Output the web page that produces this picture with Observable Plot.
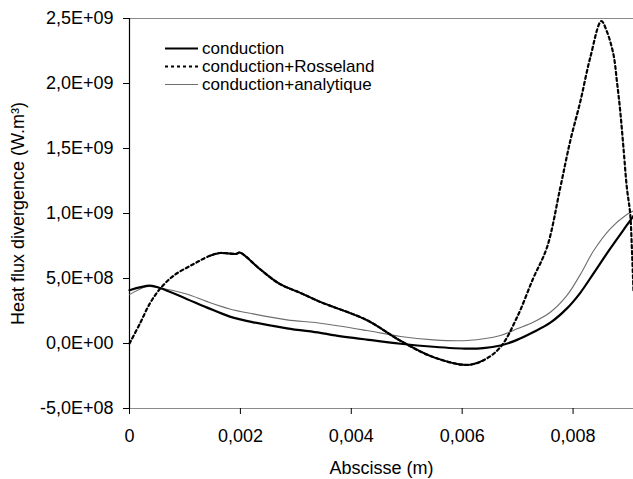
<!DOCTYPE html>
<html>
<head>
<meta charset="utf-8">
<script src="https://cdn.jsdelivr.net/npm/d3@7"></script>
<script src="https://cdn.jsdelivr.net/npm/@observablehq/plot@0.6"></script>
<style>
  body { margin: 0; background: #fff; }
  #chart { width: 633px; height: 479px; }
</style>
</head>
<body>
<div id="chart"></div>
<script>
// Series labels and axis ticks
const seriesNames = ["conduction", "conduction+Rosseland", "conduction+analytique"];
const xTicks = [0, 0.002, 0.004, 0.006, 0.008];
const yTicks = [-5e8, 0, 5e8, 1e9, 1.5e9, 2e9, 2.5e9];

// Heat flux divergence (W.m^-3) along the abscissa (m)
const conductionX = [0, 0.00037, 0.00055, 0.00103, 0.00139, 0.00181, 0.00223, 0.00284, 0.00344, 0.00367,
  0.00428, 0.00489, 0.00548, 0.00609, 0.00638, 0.00669, 0.00699, 0.00728, 0.00759, 0.00789,
  0.00813, 0.00837, 0.00867, 0.00897, 0.00909];
const conductionY = [4.1e8, 4.45e8, 4.27e8, 3.43e8, 2.78e8, 2.07e8, 1.63e8, 1.17e8, 0.82e8, 0.65e8,
  0.3e8, -0.02e8, -0.25e8, -0.4e8, -0.36e8, -0.15e8, 0.28e8, 0.87e8, 1.6e8, 2.7e8,
  3.9e8, 5.4e8, 7.3e8, 9.1e8, 9.82e8];

const rosselandX = [0, 0.00019, 0.00037, 0.00055, 0.00079, 0.00115, 0.00145, 0.00163, 0.00193, 0.00199,
  0.00235, 0.00271, 0.00308, 0.00344, 0.00428, 0.00489, 0.00548, 0.00609, 0.00638, 0.00669,
  0.00699, 0.00728, 0.00753, 0.00777, 0.00795, 0.00813, 0.00831, 0.00851, 0.00861, 0.00873,
  0.00879, 0.00885, 0.00891, 0.00897, 0.00903, 0.00906, 0.00909];
const rosselandY = [0, 1.55e8, 3.1e8, 4.2e8, 5.2e8, 6.1e8, 6.75e8, 6.96e8, 6.9e8, 7.0e8,
  5.73e8, 4.58e8, 3.9e8, 3.2e8, 1.8e8, 0.2e8, -1.05e8, -1.65e8, -1.3e8, -0.28e8,
  2.02e8, 5.0e8, 7.4e8, 1.2e9, 1.56e9, 1.86e9, 2.2e9, 2.48e9, 2.4e9, 2.22e9,
  2.02e9, 1.79e9, 1.5e9, 1.2e9, 1.0e9, 7.4e8, 4.0e8];

const analytiqueX = [0, 0.00031, 0.00055, 0.00103, 0.00139, 0.00181, 0.00223, 0.00284, 0.00344, 0.00428,
  0.00489, 0.00548, 0.00609, 0.00669, 0.00699, 0.00728, 0.00759, 0.00789, 0.00813, 0.00837,
  0.00867, 0.00897, 0.00909];
const analytiqueY = [3.76e8, 4.37e8, 4.27e8, 3.81e8, 3.24e8, 2.66e8, 2.28e8, 1.82e8, 1.56e8, 1.0e8,
  0.54e8, 0.28e8, 0.23e8, 0.61e8, 1.13e8, 1.63e8, 2.4e8, 3.7e8, 5.3e8, 7.13e8,
  8.82e8, 9.92e8, 1.02e9];

const toRows = (xs, ys) => xs.map((x, i) => ({x, y: ys[i]}));
const conduction = toRows(conductionX, conductionY);
const rosseland = toRows(rosselandX, rosselandY);
const analytique = toRows(analytiqueX, analytiqueY);

// "2,5E+09" style labels with a decimal comma
const fmtY = v => {
  const [m, e] = v.toExponential(1).split("e");
  const n = +e;
  return m.replace(".", ",") + "E" + (n < 0 ? "-" : "+") + String(Math.abs(n)).padStart(2, "0");
};
const fmtX = v => String(v).replace(".", ",");

const font = "'Liberation Sans', Arial, sans-serif";

const chart = Plot.plot({
  width: 633,
  height: 479,
  marginLeft: 129,
  marginRight: 0,
  marginTop: 18,
  marginBottom: 71,
  style: {fontFamily: font, fontSize: "18px", color: "#000", background: "#fff", overflow: "visible"},
  x: {domain: [0, 0.00909]},
  y: {domain: [-5e8, 2.5e9]},
  marks: [
    Plot.ruleY([2.5e9, -5e8], {stroke: "#8a8a8a", strokeWidth: 1.2}),
    Plot.ruleX([0], {stroke: "#000", strokeWidth: 1.2}),
    Plot.axisY({ticks: yTicks, tickFormat: fmtY, tickSize: 6, tickPadding: 10, label: null, fontSize: 18}),
    Plot.axisX({ticks: xTicks, tickFormat: fmtX, tickSize: 6, tickPadding: 15, label: null, fontSize: 18}),
    Plot.line(analytique, {x: "x", y: "y", stroke: "#6e6e6e", strokeWidth: 1.1, curve: "catmull-rom"}),
    Plot.line(conduction, {x: "x", y: "y", stroke: "#000", strokeWidth: 2.2, curve: "catmull-rom"}),
    Plot.line(rosseland, {x: "x", y: "y", stroke: "#000", strokeWidth: 2.2, strokeDasharray: "3,3", curve: "catmull-rom"}),
    // the densely sampled middle stretch reads as a continuous stroke
    Plot.line(rosseland.filter(d => d.x >= 0.0013 && d.x <= 0.0064),
      {x: "x", y: "y", stroke: "#000", strokeWidth: 2, curve: "catmull-rom"}),
    Plot.text(["Abscisse (m)"], {frameAnchor: "bottom", dy: 60, fontSize: 18, lineAnchor: "middle", textAnchor: "middle"}),
    Plot.text(["Heat flux divergence (W.m³)"], {frameAnchor: "left", dx: -111, rotate: -90, fontSize: 18, lineAnchor: "middle", textAnchor: "middle"})
  ]
});

// Legend in the upper-left corner of the plotting area
const svg = d3.select(chart);
const legend = svg.append("g").attr("font-family", font).attr("font-size", 17).attr("text-anchor", "start");
const styles = [
  {stroke: "#000", width: 2.2, dash: null},
  {stroke: "#000", width: 2.2, dash: "3,3"},
  {stroke: "#6e6e6e", width: 1.1, dash: null}
];
seriesNames.forEach((name, i) => {
  const y = 48.5 + i * 18;
  legend.append("line")
    .attr("x1", 165).attr("x2", 198).attr("y1", y).attr("y2", y)
    .attr("stroke", styles[i].stroke).attr("stroke-width", styles[i].width)
    .attr("stroke-dasharray", styles[i].dash);
  legend.append("text")
    .attr("x", 202).attr("y", y).attr("dy", "0.35em").attr("fill", "#000")
    .attr("text-anchor", "start")
    .text(name);
});

document.getElementById("chart").append(chart);
</script>
</body>
</html>
